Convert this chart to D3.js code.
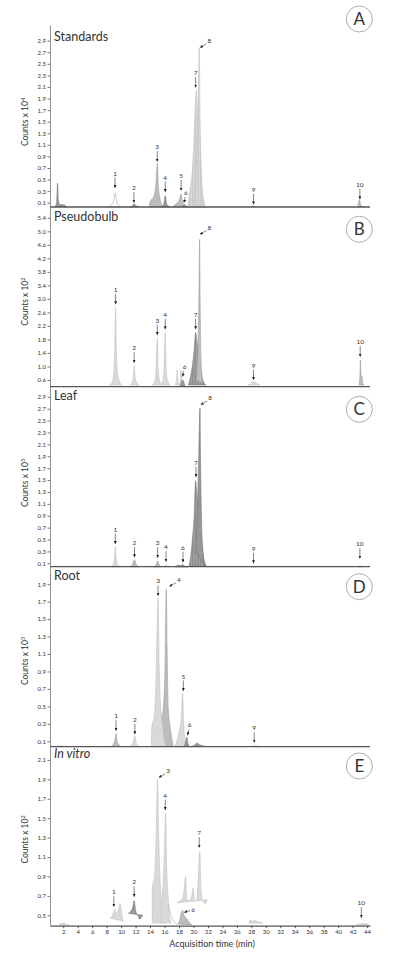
<!DOCTYPE html>
<html lang="en">
<head>
<meta charset="UTF-8">
<title>LC-MS chromatograms</title>
<script src="https://cdn.jsdelivr.net/npm/d3@7"></script>
<style>
  body { margin: 0; background: #fff; }
  svg text { font-family: Lato, "Open Sans", sans-serif; fill: #333; }
</style>
</head>
<body>
<svg width="396" height="959"></svg>
<script>
// acquisition time ticks (min)
const timeTicks = [2, 4, 6, 8, 10, 12, 14, 16, 18, 20, 22, 24, 26, 28, 30, 32, 34, 36, 38, 40, 42, 44];

// y ticks for each panel
const standardsTicks = [0.1, 0.3, 0.5, 0.7, 0.9, 1.1, 1.3, 1.5, 1.7, 1.9, 2.1, 2.3, 2.5, 2.7, 2.9];
const pseudobulbTicks = [0.6, 1.0, 1.4, 1.8, 2.2, 2.6, 3.0, 3.4, 3.8, 4.2, 4.6, 5.0, 5.4];
const leafTicks = [0.1, 0.3, 0.5, 0.7, 0.9, 1.1, 1.3, 1.5, 1.7, 1.9, 2.1, 2.3, 2.5, 2.7, 2.9];
const rootTicks = [0.1, 0.3, 0.5, 0.7, 0.9, 1.1, 1.3, 1.5, 1.7, 1.9];
const invitroTicks = [0.5, 0.7, 0.9, 1.1, 1.3, 1.5, 1.7, 1.9, 2.1];

// peaks: [compound, [[time, counts], ...]]  (s = solvent, x/u = unassigned, t = tail)
const standardsPeaks = [
  ["s", [[0.9, 0.03], [1.1, 0.12], [1.22, 0.44], [1.32, 0.15], [1.5, 0.07], [2.2, 0.06], [2.4, 0.03]]],
  ["1", [[8.2, 0.03], [8.7, 0.07], [9.0, 0.14], [9.2, 0.27], [9.35, 0.15], [9.6, 0.06], [10.0, 0.03]]],
  ["2", [[11.2, 0.03], [11.6, 0.05], [11.8, 0.08], [12.0, 0.05], [12.5, 0.03]]],
  ["3", [[13.9, 0.03], [14.0, 0.12], [14.5, 0.2], [14.8, 0.42], [15.0, 0.78], [15.15, 0.4], [15.4, 0.15], [15.8, 0.03]]],
  ["4", [[15.6, 0.03], [15.9, 0.08], [16.1, 0.22], [16.3, 0.08], [16.7, 0.03]]],
  ["5", [[17.1, 0.03], [17.6, 0.08], [18.0, 0.14], [18.3, 0.25], [18.5, 0.1], [18.9, 0.04], [19.2, 0.03]]],
  ["6", [[18.5, 0.03], [18.75, 0.07], [19.0, 0.03]]],
  ["7", [[19.2, 0.03], [19.5, 0.3], [19.8, 0.6], [20.0, 1.0], [20.2, 1.6], [20.4, 2.05], [20.6, 1.6], [20.9, 1.0], [21.1, 0.5], [21.4, 0.15], [21.7, 0.03]]],
  ["8", [[20.0, 0.03], [20.4, 0.8], [20.65, 1.8], [20.8, 2.78], [20.92, 1.5], [21.1, 0.6], [21.4, 0.03]]],
  ["9", [[28.0, 0.03], [28.3, 0.045], [28.6, 0.03]]],
  ["10", [[42.7, 0.03], [42.95, 0.15], [43.1, 0.07], [43.4, 0.03]]]
];
const pseudobulbPeaks = [
  ["1", [[8.4, 0.45], [8.8, 0.55], [9.0, 0.85], [9.12, 1.6], [9.24, 2.75], [9.34, 1.6], [9.45, 0.95], [9.7, 0.6], [10.1, 0.45]]],
  ["2", [[11.2, 0.45], [11.55, 0.55], [11.7, 0.75], [11.8, 1.01], [11.9, 0.75], [12.1, 0.55], [12.5, 0.45]]],
  ["3", [[14.3, 0.45], [14.7, 0.6], [14.85, 1.0], [15.0, 1.83], [15.12, 1.0], [15.3, 0.6], [15.6, 0.45]]],
  ["4", [[15.4, 0.45], [15.8, 0.6], [15.95, 1.0], [16.1, 2.0], [16.22, 1.0], [16.4, 0.6], [16.8, 0.45]]],
  ["x", [[17.4, 0.45], [17.65, 0.55], [17.75, 0.9], [17.85, 0.55], [18.1, 0.45]]],
  ["x", [[18.0, 0.45], [18.15, 0.55], [18.25, 0.9], [18.4, 0.55], [18.6, 0.45]]],
  ["6", [[18.2, 0.42], [18.5, 0.6], [18.8, 0.42]]],
  ["7", [[19.3, 0.45], [19.6, 0.7], [19.9, 1.1], [20.1, 1.5], [20.3, 2.0], [20.5, 1.7], [20.7, 1.4], [21.0, 0.9], [21.3, 0.6], [21.7, 0.45]]],
  ["8", [[20.4, 0.6], [20.6, 1.5], [20.75, 3.0], [20.85, 4.76], [20.92, 3.0], [21.05, 1.2], [21.3, 0.5]]],
  ["9", [[27.6, 0.45], [28.0, 0.5], [28.3, 0.56], [28.7, 0.5], [29.2, 0.45]]],
  ["10", [[42.9, 0.45], [43.0, 0.7], [43.08, 1.19], [43.15, 0.75], [43.3, 0.7], [43.4, 0.5], [43.6, 0.45]]]
];
const leafPeaks = [
  ["1", [[8.6, 0.04], [8.95, 0.1], [9.1, 0.2], [9.2, 0.38], [9.3, 0.2], [9.5, 0.09], [9.9, 0.04]]],
  ["2", [[11.2, 0.04], [11.6, 0.09], [11.85, 0.16], [12.05, 0.09], [12.5, 0.04]]],
  ["3", [[14.5, 0.04], [14.85, 0.08], [15.05, 0.14], [15.25, 0.07], [15.6, 0.04]]],
  ["4", [[15.8, 0.04], [16.05, 0.06], [16.2, 0.08], [16.4, 0.05], [16.7, 0.04]]],
  ["6", [[17.5, 0.04], [17.9, 0.07], [18.2, 0.06], [18.5, 0.08], [18.8, 0.05], [19.2, 0.04]]],
  ["7", [[19.4, 0.06], [19.6, 0.2], [19.85, 0.5], [20.1, 0.9], [20.3, 1.49], [20.5, 1.2], [20.8, 0.9], [21.1, 0.5], [21.4, 0.2], [21.8, 0.05]]],
  ["8", [[20.3, 0.3], [20.55, 1.0], [20.75, 2.0], [20.9, 2.71], [20.98, 1.8], [21.1, 0.9], [21.3, 0.3], [21.6, 0.05]]],
  ["9", [[28.0, 0.04], [28.3, 0.05], [28.6, 0.04]]],
  ["10", [[42.8, 0.04], [43.0, 0.06], [43.2, 0.04]]]
];
const rootPeaks = [
  ["s", [[1.0, 0.04], [1.5, 0.05], [2.2, 0.04]]],
  ["1", [[8.6, 0.04], [9.0, 0.08], [9.2, 0.14], [9.3, 0.19], [9.45, 0.1], [9.8, 0.05], [10.1, 0.04]]],
  ["2", [[11.3, 0.04], [11.7, 0.1], [11.9, 0.16], [12.1, 0.08], [12.5, 0.04]]],
  ["4", [[15.2, 0.04], [15.4, 0.3], [15.8, 0.45], [16.05, 0.9], [16.25, 1.84], [16.35, 1.2], [16.5, 0.5], [16.8, 0.25], [17.2, 0.04]]],
  ["3", [[14.2, 0.04], [14.22, 0.25], [14.6, 0.4], [14.85, 0.9], [15.1, 1.74], [15.25, 1.0], [15.45, 0.5], [15.7, 0.3], [16.0, 0.1], [16.3, 0.04]]],
  ["5", [[17.4, 0.04], [17.7, 0.1], [18.0, 0.2], [18.3, 0.35], [18.5, 0.65], [18.65, 0.3], [18.9, 0.1], [19.2, 0.04]]],
  ["6", [[18.7, 0.04], [18.95, 0.1], [19.1, 0.15], [19.25, 0.07], [19.5, 0.04]]],
  ["x", [[19.8, 0.04], [20.2, 0.06], [20.5, 0.08], [20.8, 0.06], [21.3, 0.05], [21.6, 0.04]]],
  ["9", [[27.8, 0.04], [28.3, 0.045], [29.3, 0.04]]],
  ["10", [[42.6, 0.04], [43.0, 0.045], [43.5, 0.04]]]
];
const invitroPeaks = [
  ["s", [[1.4, 0.40], [1.8, 0.415], [2.1, 0.42], [2.4, 0.405], [2.8, 0.40]]],
  ["1", [[8.5, 0.47], [8.8, 0.5], [9.0, 0.54], [9.15, 0.56], [9.35, 0.52], [9.6, 0.55], [9.85, 0.62], [10.05, 0.55], [10.2, 0.46], [10.4, 0.44]]],
  ["2", [[11.0, 0.52], [11.3, 0.54], [11.6, 0.58], [11.81, 0.65], [12.0, 0.55], [12.3, 0.5], [12.6, 0.46], [12.8, 0.48], [13.0, 0.5]]],
  ["3", [[14.3, 0.42], [14.31, 0.78], [14.6, 0.9], [14.8, 1.2], [15.04, 1.9], [15.2, 1.3], [15.4, 0.85], [15.6, 0.6], [15.8, 0.42]]],
  ["4", [[15.5, 0.42], [15.6, 0.6], [15.85, 0.9], [16.0, 1.2], [16.15, 1.55], [16.3, 1.0], [16.5, 0.7], [16.7, 0.5], [16.9, 0.42]]],
  ["t", [[16.5, 0.62], [16.9, 0.5], [17.3, 0.44], [17.7, 0.41], [18.0, 0.42]]],
  ["6", [[17.9, 0.41], [18.1, 0.45], [18.3, 0.52], [18.5, 0.55], [18.7, 0.5], [19.0, 0.47], [19.3, 0.44], [19.6, 0.41], [19.8, 0.40]]],
  ["7", [[17.7, 0.63], [18.0, 0.64], [18.3, 0.66], [18.6, 0.7], [18.9, 0.9], [19.1, 0.66], [19.4, 0.65], [19.7, 0.68], [19.96, 0.78], [20.15, 0.64], [20.4, 0.65], [20.6, 0.8], [20.88, 1.155], [21.05, 0.75], [21.3, 0.65], [21.6, 0.62], [21.9, 0.66]]],
  ["u", [[27.7, 0.42], [27.8, 0.45], [28.1, 0.44], [28.5, 0.445], [29.0, 0.43], [29.6, 0.42]]],
  ["10", [[42.5, 0.40], [43.0, 0.41], [43.5, 0.415], [44.0, 0.41], [44.3, 0.40]]]
];

// compound labels: [label, time, counts at arrow tip, arrow kind]
const standardsLabels = [
  ["1", 9.16, 0.354], ["2", 11.77, 0.1], ["3", 14.99, 0.81], ["4", 16.1, 0.285], ["5", 18.3, 0.31],
  ["6", 18.68, 0.1, "short"], ["7", 20.3, 2.09], ["8", 20.9, 2.78, "diag"], ["9", 28.3, 0.07], ["10", 43.0, 0.16]
];
const pseudobulbLabels = [
  ["1", 9.24, 2.84], ["2", 11.8, 1.11], ["3", 15.0, 1.93], ["4", 16.1, 2.1], ["6", 18.5, 0.7, "short"],
  ["7", 20.3, 2.1], ["8", 20.9, 4.91, "diag"], ["9", 28.3, 0.6], ["10", 43.05, 1.29]
];
const leafLabels = [
  ["1", 9.2, 0.425], ["2", 11.85, 0.2], ["3", 15.05, 0.195], ["4", 16.2, 0.127], ["6", 18.55, 0.117],
  ["7", 20.35, 1.55], ["8", 21.0, 2.765, "diag"], ["9", 28.3, 0.1], ["10", 43.0, 0.18]
];
const rootLabels = [
  ["1", 9.3, 0.22], ["2", 11.9, 0.18], ["3", 15.1, 1.766], ["4", 16.67, 1.873, "diag"],
  ["5", 18.6, 0.677], ["6", 19.2, 0.17, "short"], ["9", 28.4, 0.085]
];
const invitroLabels = [
  ["1", 9.0, 0.588], ["2", 11.8, 0.69], ["3", 15.2, 1.918, "diag"], ["4", 16.1, 1.585],
  ["6", 18.72, 0.53, "left"], ["7", 20.8, 1.197], ["10", 43.2, 0.475]
];

// ---- styles ----
const tones = {
  outline: { fill: "#ffffff", stroke: "#a8a8a8" },
  light: { fill: "#d9d9d9", stroke: "#c2c2c2" },
  mid: { fill: "#bcbcbc", stroke: "#9e9e9e" },
  dark: { fill: "#979797", stroke: "#777777" },
  line: { fill: "none", stroke: "#b0b0b0" },
  hatchLight: { fill: "url(#hatchLight)", stroke: "#c2c2c2" },
  hatchDark: { fill: "url(#hatchDark)", stroke: "#777777" }
};

const panels = [
  { letter: "A", title: "Standards", exp: "4", top: 25, bottom: 207, domain: [0.026, 3.17], ticks: standardsTicks,
    peaks: standardsPeaks, labels: standardsLabels, titleY: 41, circleY: 19, labelY: 122,
    shade: { s: "dark", 1: "outline", 2: "dark", 3: "mid", 4: "dark", 5: "mid", 6: "dark", 7: "hatchLight", 8: "hatchLight", 9: "mid", 10: "mid" } },
  { letter: "B", title: "Pseudobulb", exp: "2", top: 207, bottom: 386.7, domain: [0.40, 5.72], ticks: pseudobulbTicks,
    peaks: pseudobulbPeaks, labels: pseudobulbLabels, titleY: 221, circleY: 229.3, labelY: 301.6,
    shade: { 1: "light", 2: "light", 3: "light", 4: "light", x: "light", 6: "dark", 7: "hatchDark", 8: "mid", 9: "light", 10: "mid" } },
  { letter: "C", title: "Leaf", exp: "3", top: 386.7, bottom: 566.7, domain: [0.043, 3.07], ticks: leafTicks,
    peaks: leafPeaks, labels: leafLabels, titleY: 400, circleY: 409.3, labelY: 483,
    shade: { 1: "light", 2: "mid", 3: "mid", 4: "light", 6: "dark", 7: "hatchDark", 8: "dark", 9: "mid", 10: "mid" } },
  { letter: "D", title: "Root", exp: "3", top: 566.7, bottom: 746.7, domain: [0.038, 2.1], ticks: rootTicks,
    peaks: rootPeaks, labels: rootLabels, titleY: 580, circleY: 586.7, labelY: 661,
    shade: { s: "light", 1: "mid", 2: "light", 3: "light", 4: "mid", 5: "light", 6: "dark", x: "dark", 9: "mid", 10: "light" } },
  { letter: "E", title: "In vitro", italic: true, exp: "2", top: 746.7, bottom: 925.7, domain: [0.393, 2.236], ticks: invitroTicks,
    peaks: invitroPeaks, labels: invitroLabels, titleY: 758, circleY: 766, labelY: 839.5,
    shade: { s: "light", 1: "light", 2: "dark", 3: "light", 4: "light", t: "line", 6: "mid", 7: "light", u: "light", 10: "light" } }
];

const svg = d3.select("svg");
const x = d3.scaleLinear().domain([0.17, 44.4]).range([50, 370]);

const defs = svg.append("defs");

// arrowhead
defs.append("marker")
    .attr("id", "arrow")
    .attr("viewBox", "0 0 10 10")
    .attr("refX", 10).attr("refY", 5)
    .attr("markerWidth", 3).attr("markerHeight", 3)
    .attr("markerUnits", "userSpaceOnUse")
    .attr("orient", "auto")
  .append("path")
    .attr("d", "M0,0L10,5L0,10Z")
    .attr("fill", "#222");

// vertical line texture for overlapping traces
[["hatchLight", "#dadada", "#bdbdbd"], ["hatchDark", "#a3a3a3", "#7c7c7c"]].forEach(([id, bg, fg]) => {
    const pat = defs.append("pattern")
        .attr("id", id)
        .attr("patternUnits", "userSpaceOnUse")
        .attr("width", 1.6).attr("height", 10);
    pat.append("rect").attr("width", 1.6).attr("height", 10).attr("fill", bg);
    pat.append("rect").attr("width", 0.45).attr("height", 10).attr("fill", fg);
});

panels.forEach(p => {
    const y = d3.scaleLinear().domain(p.domain).range([p.bottom, p.top]);
    const g = svg.append("g");

    const line = d3.line()
        .x(d => x(d[0]))
        .y(d => y(d[1]))
        .curve(d3.curveMonotoneX);

    // peaks
    g.append("g").selectAll("path")
        .data(p.peaks)
        .join("path")
        .attr("d", d => line(d[1]) + (p.shade[d[0]] === "line" ? "" : "Z"))
        .attr("fill", d => tones[p.shade[d[0]]].fill)
        .attr("stroke", d => tones[p.shade[d[0]]].stroke)
        .attr("stroke-width", 0.6)
        .attr("stroke-linejoin", "round");

    // y axis
    const yAxis = g.append("g")
        .attr("transform", "translate(50,0)")
        .call(d3.axisLeft(y).tickValues(p.ticks).tickSize(2.5).tickSizeOuter(0).tickPadding(1.5).tickFormat(d3.format(".1f")));
    yAxis.select(".domain").attr("stroke", "#777").attr("stroke-width", 0.8);
    yAxis.selectAll(".tick line").attr("stroke", "#777");
    yAxis.selectAll(".tick text").attr("font-size", 6).attr("fill", "#333")
        .style("font-family", "Lato, sans-serif");

    // bottom axis
    if (p.letter === "E") {
        const xAxis = g.append("g")
            .attr("transform", `translate(0,${p.bottom})`)
            .call(d3.axisBottom(x).tickValues(timeTicks).tickSize(2.5).tickSizeOuter(0).tickPadding(1.5));
        xAxis.select(".domain").attr("stroke", "#555").attr("stroke-width", 1.3);
        xAxis.selectAll(".tick line").attr("stroke", "#555");
        xAxis.selectAll(".tick text").attr("font-size", 6).attr("fill", "#333")
            .style("font-family", "Lato, sans-serif");
    } else {
        g.append("line")
            .attr("x1", 50).attr("x2", 370)
            .attr("y1", p.bottom).attr("y2", p.bottom)
            .attr("stroke", "#555").attr("stroke-width", 1.3);
    }

    // compound labels with arrows
    p.labels.forEach(([txt, t, v, kind]) => {
        const tx = x(t), ty = y(v);
        let lx = tx, ly = ty - 14, x1 = tx, y1 = ty - 10.5;
        if (kind === "diag") { lx = tx + 9.5; ly = ty - 6; x1 = tx + 6.5; y1 = ty - 3.8; }
        if (kind === "short") { lx = tx + 2; ly = ty - 9.5; x1 = tx + 1.2; y1 = ty - 5.5; }
        if (kind === "left") { lx = tx + 9; ly = ty - 2.3; x1 = tx + 5.8; y1 = ty - 1.9; }
        g.append("line")
            .attr("x1", x1).attr("y1", y1)
            .attr("x2", tx).attr("y2", ty)
            .attr("stroke", "#333").attr("stroke-width", 0.6)
            .attr("marker-end", "url(#arrow)");
        g.append("text")
            .attr("x", lx).attr("y", ly)
            .attr("text-anchor", "middle")
            .attr("dominant-baseline", "middle")
            .attr("font-size", 6.5)
            .text(txt);
    });

    // panel title
    g.append("text")
        .attr("x", 54).attr("y", p.titleY)
        .attr("font-size", 12.5)
        .attr("font-style", p.italic ? "italic" : null)
        .attr("fill", "#111")
        .text(p.title);

    // panel letter in circle
    g.append("circle")
        .attr("cx", 359.3).attr("cy", p.circleY).attr("r", 13)
        .attr("fill", "#fff").attr("stroke", "#999").attr("stroke-width", 0.8);
    g.append("text")
        .attr("x", 359.3).attr("y", p.circleY + 6)
        .attr("text-anchor", "middle")
        .attr("font-size", 17)
        .attr("fill", "#111")
        .text(p.letter);

    // y label
    const yl = g.append("text")
        .attr("transform", `translate(28,${p.labelY}) rotate(-90)`)
        .attr("text-anchor", "middle")
        .attr("font-size", 8.5)
        .attr("fill", "#222");
    yl.append("tspan").text("Counts x 10");
    yl.append("tspan").attr("font-size", 5.5).attr("dy", -3.5).text(p.exp);
});

// x label
svg.append("text")
    .attr("x", 212).attr("y", 947)
    .attr("text-anchor", "middle")
    .attr("font-size", 9)
    .attr("fill", "#222")
    .text("Acquisition time (min)");
</script>
</body>
</html>
